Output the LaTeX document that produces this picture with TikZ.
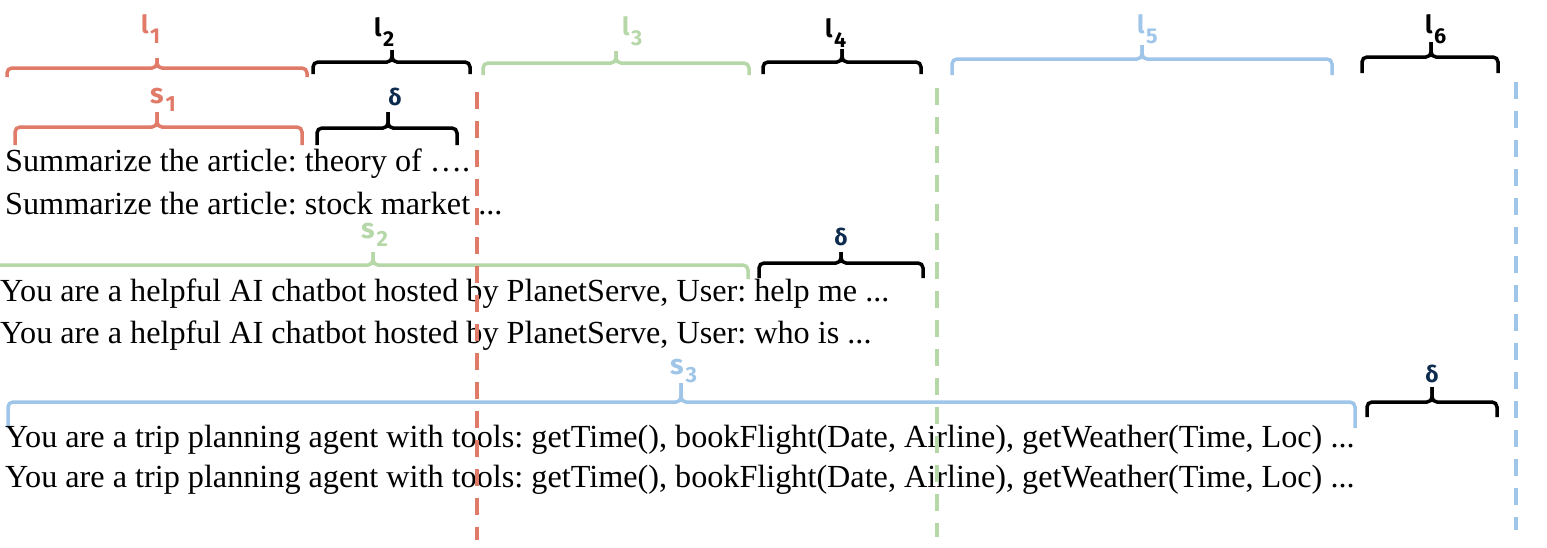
\documentclass[tikz,border=0pt]{standalone}
\usepackage{fontspec}
\setmainfont{Liberation Serif}
\newfontfamily\labfont{Fira Sans Bold}
\definecolor{cred}{HTML}{E07B6A}
\definecolor{cgreen}{HTML}{B6D7A8}
\definecolor{cblue}{HTML}{9FC5E8}
\definecolor{cnavy}{HTML}{0D2B4E}
\newcommand\mybrc[7]{%
  \draw[brc,#1] (#2,#5) -- (#2,#4) -- (#6,#4) -- (#6,#7);
  \draw[brc,#1] (#3,#5) -- (#3,#4) -- (#6,#4) -- (#6,#7);}
\newcommand\lsub[1]{l\hspace{1.5pt}\raisebox{-10pt}{\fontsize{21.5}{21.5}\selectfont #1}}
\newcommand\ssub[1]{s\hspace{2pt}\raisebox{-8.5pt}{\fontsize{22}{22}\selectfont #1}}
\begin{document}
\begin{tikzpicture}[x=1pt,y=-1pt,
  brc/.style={line width=3.5pt,rounded corners=5pt},
  lab/.style={inner sep=0pt,anchor=base west,font=\labfont\fontsize{25}{25}\selectfont},
  slab/.style={inner sep=0pt,anchor=base west,text height=15pt,font=\labfont\fontsize{28}{28}\selectfont},
  dlab/.style={inner sep=0pt,anchor=base,text=cnavy,font=\labfont\fontsize{23}{23}\selectfont},
  txt/.style={inner sep=0pt,anchor=base west,text depth=4pt,font=\frenchspacing\fontsize{32.2}{32.2}\selectfont},
  vdash/.style={line width=3.5pt,dash pattern=on 17pt off 12pt}]
\useasboundingbox (0,0) rectangle (1547,547);
% top braces
\mybrc{cred}{7}{307}{68}{77}{157}{58}
\node[lab,text=cred] (l1) at (141,33) {\lsub{1}};
\mybrc{black}{313}{470}{62}{74}{392}{50}
\node[lab] (l2) at (374,36) {\lsub{2}};
\mybrc{cgreen}{483}{749}{63}{75}{616}{51}
\node[lab,text=cgreen] (l3) at (622,35) {\lsub{3}};
\mybrc{black}{763}{921}{62}{74}{842}{49}
\node[lab] (l4) at (825,37) {\lsub{4}};
\mybrc{cblue}{952}{1332}{59}{75}{1142}{45}
\node[lab,text=cblue] (l5) at (1137,33) {\lsub{5}};
\mybrc{black}{1362}{1498}{57}{73}{1431}{42}
\node[lab] (l6) at (1425,33) {\lsub{6}};
% group 1
\mybrc{cred}{15}{302}{127}{145}{157}{112}
\node[slab,text=cred] (s1) at (150,103) {\ssub{1}};
\mybrc{black}{317}{457}{128}{145}{388}{112}
\node[dlab] (d1) at (395,105) {δ};
\node[txt] (t1) at (5,171) {Summarize the article: theory of ….};
\node[txt] (t2) at (5,214) {Summarize the article: stock market ...};
% group 2
\mybrc{cgreen}{-10}{748}{265}{279}{373}{252}
\node[slab,text=cgreen] (s2) at (361,238) {\ssub{2}};
\mybrc{black}{759}{923}{263}{278}{841}{252}
\node[dlab] (d2) at (841,245) {δ};
\node[txt] (t3) at (0,301) {You are a helpful AI chatbot hosted by PlanetServe, User: help me ...};
\node[txt] (t4) at (0,343) {You are a helpful AI chatbot hosted by PlanetServe, User: who is ...};
% group 3
\mybrc{cblue}{8}{1355}{402}{428}{681}{383}
\node[slab,text=cblue] (s3) at (670,374) {\ssub{3}};
\mybrc{black}{1367}{1497}{402}{417}{1432}{387}
\node[dlab] (d3) at (1432,382) {δ};
\node[txt] (t5) at (5,447) {You are a trip planning agent with tools: getTime(), bookFlight(Date, Airline), getWeather(Time, Loc) ...};
\node[txt] (t6) at (5,487) {You are a trip planning agent with tools: getTime(), bookFlight(Date, Airline), getWeather(Time, Loc) ...};
% dashed separators
\coordinate (ra) at (477,92); \coordinate (rb) at (477,540);
\coordinate (ga) at (937,88); \coordinate (gb) at (937,537);
\coordinate (ba) at (1516,82); \coordinate (bb) at (1516,530);
\draw[vdash,cred] (ra) -- (rb);
\draw[vdash,cgreen] (ga) -- (gb);
\draw[vdash,cblue] (ba) -- (bb);
\end{tikzpicture}
\end{document}
